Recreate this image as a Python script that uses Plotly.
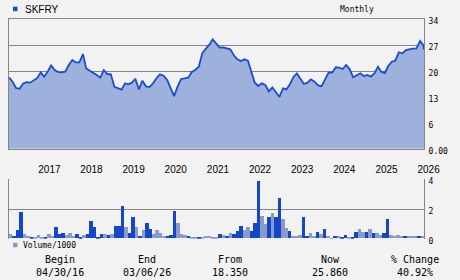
import pandas as pd
import plotly.graph_objects as go

# ---------------- data ----------------
TICKER = "SKFRY"
price = [
    18.35, 17.2, 15.5, 15.3, 16.7, 17.05, 16.94, 17.66, 18.2, 19.72,
    18.55, 19.9, 21.6, 20.35, 19.8, 19.73, 19.9, 21.7, 23.04, 22.4,
    22.4, 24.66, 20.8, 20.17, 19.63, 19.0, 18.28, 20.35, 19.27, 19.2,
    15.8, 15.32, 15.05, 16.76, 16.49, 16.94, 18.0, 15.14, 17.48, 15.95,
    15.77, 16.76, 18.2, 19.18, 18.82, 17.66, 15.68, 13.3, 15.86, 17.93,
    18.1, 18.28, 19.81, 20.35, 21.25, 24.84, 26.09, 27.17, 28.6, 27.4,
    26.36, 26.45, 26.18, 25.9, 24.3, 23.22, 22.77, 23.22, 22.86, 19.72,
    16.94, 16.04, 16.76, 16.31, 14.6, 15.68, 14.25, 13.1, 15.41, 15.14,
    16.58, 18.55, 19.45, 18.02, 16.58, 16.94, 17.84, 17.21, 16.22, 16.0,
    17.7, 19.63, 19.63, 21.07, 20.98, 20.62, 21.7, 20.53, 18.37, 18.82,
    19.45, 18.73, 19.0, 18.55, 19.45, 21.25, 19.9, 19.54, 21.43, 22.59,
    22.86, 25.1, 24.84, 25.73, 26.0, 26.09, 26.18, 28.2, 27.07, 25.86,
]
price_dates = list(pd.date_range("2016-04-30", periods=119, freq="ME")) + [pd.Timestamp("2026-03-06")]

# volume in thousands, one bar per month; up = 1 -> dark bar
volume = [
    0.31, 0.17, 0.58, 1.75, 0.31, 0.17, 0.05, 0.05, 0.24, 0.10,
    0.05, 0.31, 0.17, 0.74, 0.31, 0.38, 0.24, 0.38, 0.17, 0.31,
    0.10, 0.24, 0.31, 1.20, 0.79, 0.10, 0.31, 0.31, 0.24, 0.31,
    0.86, 0.86, 2.16, 0.79, 0.38, 1.47, 0.79, 0.17, 0.58, 1.06,
    0.65, 0.31, 0.58, 0.38, 0.17, 0.17, 0.24, 1.82, 1.06, 0.31,
    0.24, 0.17, 0.10, 0.10, 0.10, 0.10, 0.17, 0.17, 0.10, 0.10,
    0.31, 0.24, 0.17, 0.38, 0.31, 0.52, 0.86, 0.58, 0.79, 0.52,
    1.06, 3.87, 1.54, 1.00, 1.41, 1.68, 1.41, 2.70, 1.34, 0.72,
    0.52, 0.17, 0.17, 0.24, 1.41, 0.17, 0.38, 0.17, 0.45, 0.31,
    0.65, 0.17, 0.02, 0.17, 0.17, 0.10, 0.24, 0.10, 0.10, 0.45,
    0.65, 0.45, 0.45, 0.65, 0.38, 0.38, 0.24, 0.38, 1.34, 0.24,
    0.17, 0.24, 0.17, 0.17, 0.17, 0.17, 0.17, 0.17, 0.17,
]
up = [
    0, 1, 1, 1, 0, 0, 1, 0, 0, 0,
    1, 0, 0, 1, 1, 1, 0, 0, 0, 1,
    1, 0, 1, 1, 1, 1, 1, 0, 1, 0,
    1, 1, 1, 0, 1, 1, 0, 1, 0, 1,
    1, 0, 0, 0, 0, 1, 1, 1, 0, 0,
    0, 1, 0, 0, 1, 0, 0, 0, 0, 0,
    1, 0, 1, 0, 1, 1, 1, 0, 0, 1,
    1, 1, 0, 0, 1, 0, 1, 1, 0, 0,
    1, 0, 0, 0, 1, 1, 0, 0, 1, 0,
    1, 0, 0, 1, 0, 1, 1, 0, 1, 1,
    0, 0, 1, 0, 1, 0, 0, 1, 1, 0,
    0, 0, 0, 1, 0, 0, 0, 1, 0,
]
vol_index = list(range(len(volume)))

year_ticks = [f"{y}-01-01" for y in range(2017, 2027)]
year_labels = [str(y) for y in range(2017, 2027)]

price_ticks = [6, 13, 20, 27, 34]
price_tick_text = ["6", "13", "20", "27", "34"]
PRICE_MIN, PRICE_MAX = -0.84, 34
vol_ticks = [0, 2, 4]

summary_heads = ["Begin", "End", "From", "Now", "% Change"]
summary_vals = ["04/30/16", "03/06/26", "18.350", "25.860", "40.92%"]
summary_x = [60, 147, 230, 330, 415]

# ---------------- styles ----------------
W, H = 460, 280
BG = "#f2f2f2"
LINE = "#1a4ccf"
FILL = "#9eb0dc"
DARK = "#1446c8"
LIGHT = "#8a9aca"
GRID = "#858585"
MONO = "DejaVu Sans Mono"
SANS = "Liberation Sans, Arial"


def px_x(x):
    return x / W


def px_y(y):
    return 1 - y / H


fig = go.Figure()

# baseline for the area fill (bottom of price axis)
fig.add_trace(go.Scatter(
    x=price_dates, y=[PRICE_MIN] * len(price_dates), mode="lines",
    line=dict(width=0, color=FILL), hoverinfo="skip", showlegend=False,
    xaxis="x", yaxis="y",
))
fig.add_trace(go.Scatter(
    x=price_dates, y=price, mode="lines", fill="tonexty", fillcolor=FILL,
    line=dict(color=LINE, width=1.8), showlegend=False,
    xaxis="x", yaxis="y",
))
fig.add_trace(go.Bar(
    x=vol_index, y=volume, width=1.0,
    marker=dict(color=[DARK if u else LIGHT for u in up], line=dict(width=0)),
    showlegend=False, xaxis="x2", yaxis="y2",
))

fig.update_layout(
    width=W, height=H,
    margin=dict(l=0, r=0, t=0, b=0),
    paper_bgcolor=BG, plot_bgcolor=BG,
    bargap=0,
    xaxis=dict(
        domain=[px_x(9), px_x(424)],
        type="date", automargin=False,
        range=[price_dates[0], price_dates[-1]],
        tickmode="array", tickvals=year_ticks, ticktext=year_labels,
        ticks="", showgrid=False, zeroline=False,
        showline=True, mirror=True, linecolor=GRID, linewidth=1,
        tickfont=dict(family=SANS, size=10, color="#000"),
        ticklabelshift=12, ticklabelstandoff=11,
        anchor="y",
    ),
    yaxis=dict(
        domain=[px_y(148.7), px_y(19.3)],
        range=[PRICE_MIN, PRICE_MAX], automargin=False,
        side="right",
        tickmode="array",
        tickvals=[PRICE_MIN] + price_ticks,
        ticktext=["0.00"] + price_tick_text,
        ticks="", showgrid=True, gridcolor=GRID, gridwidth=1, zeroline=False,
        showline=True, mirror=True, linecolor=GRID, linewidth=1,
        tickfont=dict(family=MONO, size=8, color="#000"),
        ticklabelshift=2, ticklabelstandoff=2,
        anchor="x",
    ),
    xaxis2=dict(
        domain=[px_x(9), px_x(424)],
        range=[-0.5, len(volume) - 0.5], automargin=False,
        showticklabels=False, ticks="", showgrid=False, zeroline=False,
        showline=False,
        anchor="y2",
    ),
    yaxis2=dict(
        domain=[px_y(238.7), px_y(179.3)],
        range=[0, 4], automargin=False,
        side="right",
        tickmode="array", tickvals=vol_ticks,
        ticks="", showgrid=True, gridcolor=GRID, gridwidth=1, zeroline=False,
        showline=True, mirror=True, linecolor=GRID, linewidth=1,
        tickfont=dict(family=MONO, size=8, color="#000"),
        ticklabelshift=2, ticklabelstandoff=2,
        anchor="x2",
    ),
)

annotations = [
    dict(x=px_x(23), y=px_y(9), text=TICKER, xanchor="left", yanchor="middle",
         font=dict(family=SANS, size=10, color="#000")),
    dict(x=px_x(357), y=px_y(9), text="Monthly", xanchor="center", yanchor="middle",
         font=dict(family=MONO, size=8, color="#000")),
    dict(x=px_x(20.5), y=px_y(245), text="Volume/1000", xanchor="left", yanchor="middle",
         font=dict(family=MONO, size=8, color="#000")),
]
for xh, head, val in zip(summary_x, summary_heads, summary_vals):
    annotations.append(dict(x=px_x(xh), y=px_y(259), text=head, xanchor="center",
                            yanchor="middle", font=dict(family=MONO, size=10, color="#000")))
    annotations.append(dict(x=px_x(xh), y=px_y(272.5), text=val, xanchor="center",
                            yanchor="middle", font=dict(family=MONO, size=10, color="#000")))
for a in annotations:
    a.update(xref="paper", yref="paper", showarrow=False)
fig.update_layout(annotations=annotations)

fig.update_layout(shapes=[
    dict(type="rect", xref="paper", yref="paper",
         x0=px_x(13), x1=px_x(17.5), y0=px_y(11.2), y1=px_y(6.7),
         fillcolor=LINE, line=dict(width=0)),
    dict(type="rect", xref="paper", yref="paper",
         x0=px_x(13), x1=px_x(17.5), y0=px_y(247.3), y1=px_y(242.8),
         fillcolor=LIGHT, line=dict(width=0)),
])

fig.write_html("out.html")
